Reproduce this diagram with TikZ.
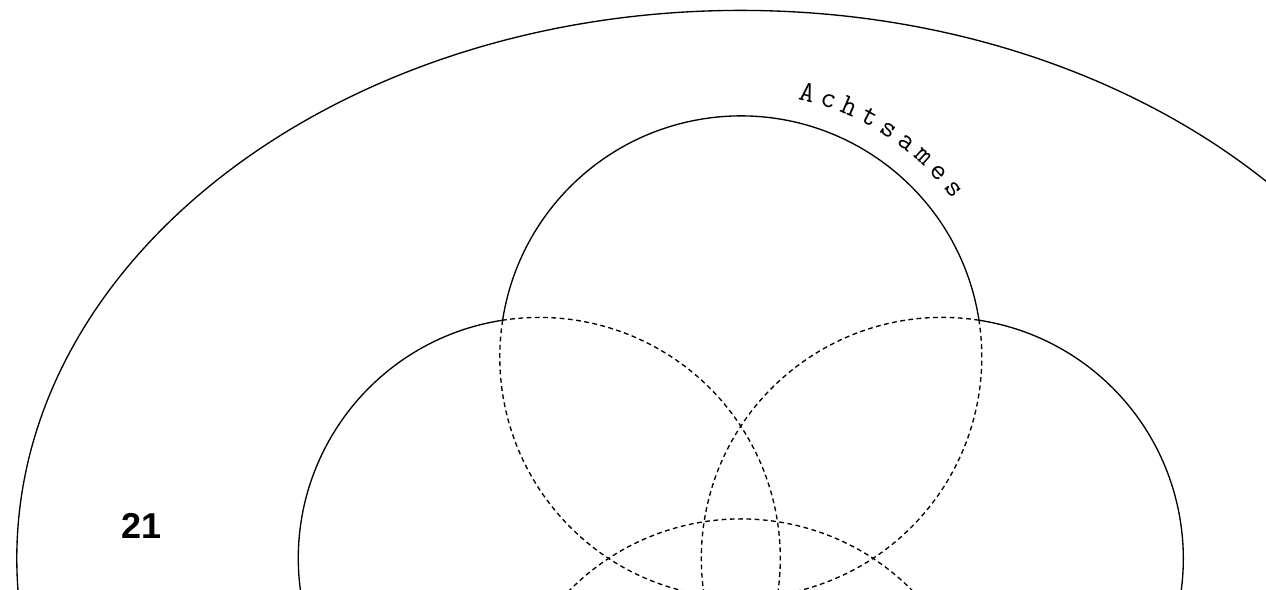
\documentclass[tikz,border=0pt]{standalone}
\usepackage{fontspec}
\newfontfamily\numfont{Liberation Sans}
\begin{document}
\begin{tikzpicture}[x=0.75pt,y=0.75pt,line width=1pt,
  solidarc/.style={draw=black},
  dasharc/.style={draw=black,dash pattern=on 3.6pt off 2.6pt},
  letter/.style={inner sep=0pt,anchor=base,font=\ttfamily\fontsize{22}{25}\selectfont},
  numlabel/.style={inner sep=0pt,font=\numfont\bfseries\fontsize{27}{30}\selectfont}]
\useasboundingbox (0,0) rectangle (1266,589);
\clip (0,0) rectangle (1266,589);
\coordinate (O) at (740.8,30.6);
\coordinate (T) at (740.8,232.1);
\coordinate (L) at (539.3,30.6);
\coordinate (R) at (942.3,30.6);
\coordinate (B) at (740.8,-170.9);
% outer ellipse
\draw (O) ellipse [x radius=724, y radius=548];
% top circle
\draw[solidarc] ([shift={(8.76:241)}]T) arc[start angle=8.76, end angle=171.24, radius=241];
\draw[dasharc] ([shift={(171.24:241)}]T) arc[start angle=171.24, end angle=368.76, radius=241];
% left circle
\draw[solidarc] ([shift={(98.76:241)}]L) arc[start angle=98.76, end angle=261.24, radius=241];
\draw[dasharc] ([shift={(261.24:241)}]L) arc[start angle=261.24, end angle=458.76, radius=241];
% right circle
\draw[solidarc] ([shift={(-81.24:241)}]R) arc[start angle=-81.24, end angle=81.24, radius=241];
\draw[dasharc] ([shift={(81.24:241)}]R) arc[start angle=81.24, end angle=278.76, radius=241];
% bottom circle
\draw[solidarc] ([shift={(188.76:241)}]B) arc[start angle=188.76, end angle=351.24, radius=241];
\draw[dasharc] ([shift={(-8.76:241)}]B) arc[start angle=-8.76, end angle=188.76, radius=241];
% label along the top circle
\foreach \ch [count=\i from 0] in {A,c,h,t,s,a,m,e,s} {
  \pgfmathsetmacro\ang{75.9-4.71*\i}
  \pgfmathsetmacro\rot{\ang-90}
  \node[letter,rotate=\rot] (l\i) at ([shift={(\ang:264)}]T) {\ch};
}
\node[numlabel] (num) at (142,63) {21};
\end{tikzpicture}
\end{document}
